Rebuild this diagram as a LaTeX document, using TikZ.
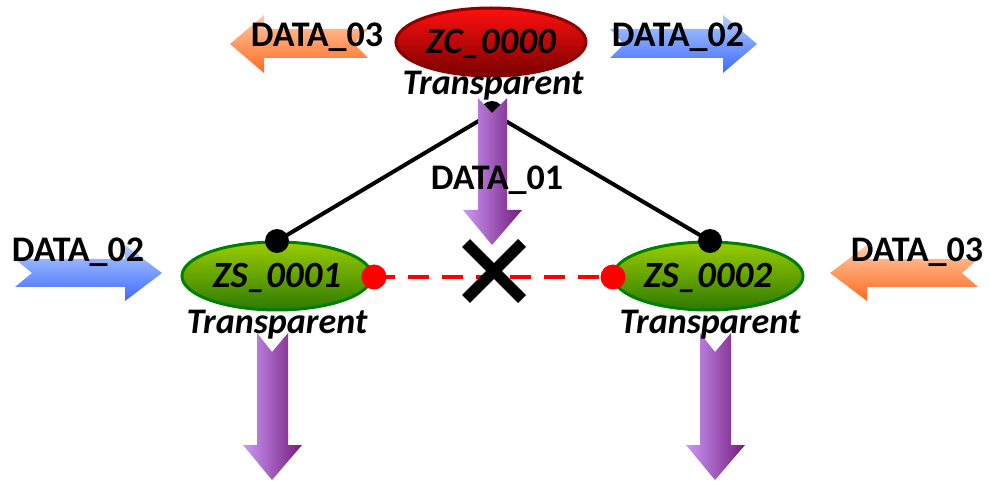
\documentclass[tikz,border=0pt]{standalone}
\usepackage{fontspec}
\setmainfont{Carlito}
\usetikzlibrary{shapes.geometric}
\definecolor{redtop}{HTML}{FF1010}
\definecolor{redbot}{HTML}{7A0000}
\definecolor{redline}{HTML}{8C0000}
\definecolor{greentop}{HTML}{9ACC00}
\definecolor{greenbot}{HTML}{2F7A00}
\definecolor{greenline}{HTML}{008000}
\definecolor{orangetop}{HTML}{FFCBA8}
\definecolor{orangebot}{HTML}{FF6A20}
\definecolor{bluetop}{HTML}{B0CCFF}
\definecolor{bluebot}{HTML}{3F6BFF}
\definecolor{purpleL}{HTML}{CC99F5}
\definecolor{purpleR}{HTML}{741B7E}
\definecolor{dotred}{HTML}{FF0000}
\tikzset{
  lbl/.style={font=\fontsize{36}{36}\selectfont\bfseries, anchor=base, inner sep=0pt},
  ilbl/.style={font=\fontsize{36}{36}\selectfont\bfseries\itshape, anchor=base, inner sep=0pt},
  zone/.style={ellipse, minimum width=190pt, minimum height=68pt, line width=3pt, inner sep=0pt,
    font=\fontsize{37}{37}\selectfont\bfseries\itshape, text height=23pt, text depth=0pt},
  zcnode/.style={zone, draw=redline, top color=redtop, bottom color=redbot},
  zsnode/.style={zone, draw=greenline, top color=greentop, bottom color=greenbot},
  link/.style={line width=4pt, black},
  blackdot/.style={circle, fill=black, minimum size=24pt, inner sep=0pt},
  reddot/.style={circle, fill=dotred, minimum size=25pt, inner sep=0pt},
  orangearrow/.style={top color=orangetop, bottom color=orangebot, draw=none},
  bluearrow/.style={top color=bluetop, bottom color=bluebot, draw=none},
  purplearrow/.style={left color=purpleL, right color=purpleR, draw=none},
}
\begin{document}
\begin{tikzpicture}[x=1pt,y=-1pt]
\useasboundingbox (0,0) rectangle (989,481);

% connector end points
\coordinate (p0) at (492,113);
\coordinate (p1) at (277,241);
\coordinate (p2) at (710,241);
\coordinate (q1) at (374,277);
\coordinate (q2) at (613,277);

% links
\draw[link] (p0) -- (p1);
\draw[link] (p0) -- (p2);

% nodes
\node[zcnode] (zc) at (491,42) {ZC\_0000};
\node[zsnode] (zs1) at (277,276) {ZS\_0001};
\node[zsnode] (zs2) at (708,276) {ZS\_0002};

\draw[dotred, line width=4pt, dash pattern=on 21pt off 13pt] (q1) -- (q2);

% connector dots
\node[blackdot] (d0) at (p0) {};
\node[blackdot] (d1) at (p1) {};
\node[blackdot] (d2) at (p2) {};
\node[reddot] (r1) at (q1) {};
\node[reddot] (r2) at (q2) {};

% X mark
\coordinate (xa) at (466,243);
\coordinate (xb) at (522,299);
\coordinate (xc) at (522,243);
\coordinate (xd) at (466,299);
\draw[line width=11pt, black] (xa) -- (xb);
\draw[line width=11pt, black] (xc) -- (xd);

% block arrows
\shade[orangearrow] (368,29) -- (264,29) -- (264,15) -- (230,44) -- (264,73) -- (264,58) -- (368,58) -- (354,44) -- cycle;
\shade[bluearrow] (610,29) -- (723,29) -- (723,15) -- (757,44) -- (723,73) -- (723,58) -- (610,58) -- (624,44) -- cycle;
\shade[bluearrow] (15,259) -- (125,259) -- (125,245) -- (162,273) -- (125,301) -- (125,287) -- (15,287) -- (32,273) -- cycle;
\shade[orangearrow] (978,259) -- (867,259) -- (867,245) -- (830,273) -- (867,301) -- (867,287) -- (978,287) -- (962,273) -- cycle;
\shade[purplearrow] (478,98) -- (492,113) -- (507,98) -- (507,210) -- (522,210) -- (492,245) -- (463,210) -- (478,210) -- cycle;
\shade[purplearrow] (257,333) -- (272,352) -- (288,333) -- (288,445) -- (302,445) -- (272,480) -- (243,445) -- (257,445) -- cycle;
\shade[purplearrow] (700,333) -- (715,352) -- (731,333) -- (731,445) -- (745,445) -- (715,480) -- (686,445) -- (700,445) -- cycle;

% labels
\node[lbl] (t03a) at (317,47) {DATA\_03};
\node[lbl] (t02a) at (678,47) {DATA\_02};
\node[lbl] (t01) at (497,190) {DATA\_01};
\node[lbl] (t02b) at (78,262) {DATA\_02};
\node[lbl] (t03b) at (917,262) {DATA\_03};
\node[ilbl] (tr0) at (493,95) {Transparent};
\node[ilbl] (tr1) at (277,334) {Transparent};
\node[ilbl] (tr2) at (710,334) {Transparent};
\end{tikzpicture}
\end{document}
